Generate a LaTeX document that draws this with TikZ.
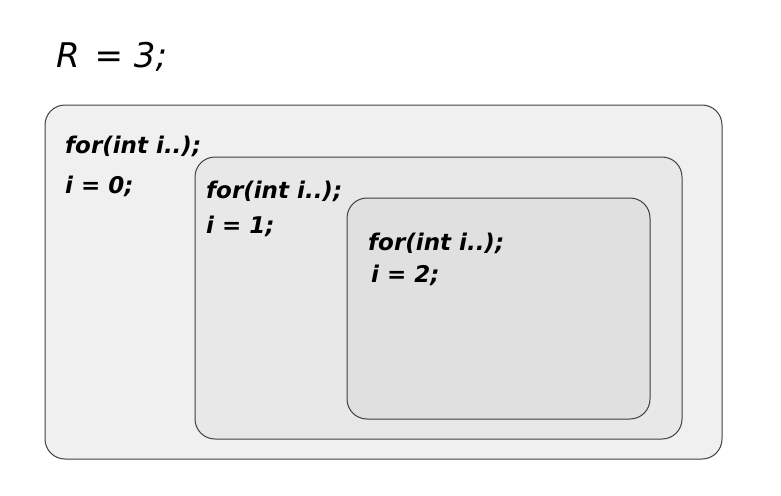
\documentclass[tikz,border=0pt]{standalone}
\usepackage{fontspec}
\setmainfont{DejaVu Sans}
\begin{document}
\begin{tikzpicture}[x=1pt,y=-1pt,
  box/.style={draw=black!75, line width=1pt, rounded corners=20pt},
  code/.style={anchor=base west, inner sep=0pt, font=\fontsize{23}{27}\selectfont\bfseries\itshape},
  title/.style={anchor=base west, inner sep=0pt, font=\fontsize{34}{40}\selectfont\itshape}]
\useasboundingbox (0,0) rectangle (781,495);
\fill[white] (0,0) rectangle (781,495);
\draw[box, fill=black!6] (45,105) rectangle (722,459);
\draw[box, fill=black!9] (195,157) rectangle (682,439);
\draw[box, fill=black!12] (347,198) rectangle (650,419);
\node[title] (r) at (56,67) {R\hspace{0.12em} = 3;};
\node[code] (f0) at (65,153) {for(int i..);};
\node[code] (i0) at (65,193) {i = 0;};
\node[code] (f1) at (206,198) {for(int i..);};
\node[code] (i1) at (206,233) {i = 1;};
\node[code] (f2) at (368,250) {for(int i..);};
\node[code] (i2) at (371,282) {i = 2;};
\end{tikzpicture}
\end{document}
